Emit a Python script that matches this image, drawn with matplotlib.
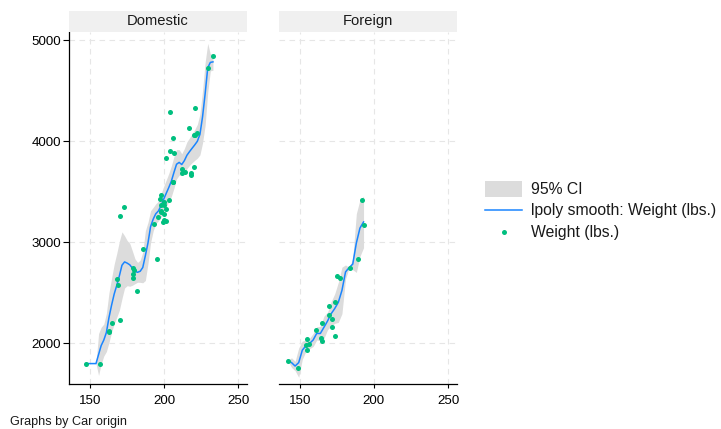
import numpy as np
import matplotlib
matplotlib.use("Agg")
import matplotlib.pyplot as plt
from matplotlib.patches import Rectangle
from matplotlib.lines import Line2D

plt.rcParams['font.family'] = ['Liberation Sans', 'DejaVu Sans']

# auto data: length (in.) and weight (lbs.) by car origin
dom_length = [186, 173, 168, 196, 222, 218, 170, 200, 207, 200, 221, 204, 204, 163,
              212, 193, 200, 179, 197, 163, 206, 206, 220, 147, 179, 233, 230, 201,
              169, 221, 212, 198, 217, 195, 220, 198, 198, 218, 200, 180, 206, 170,
              157, 165, 182, 201, 214, 198, 201, 199, 203, 179]
dom_weight = [2930, 3350, 2640, 3250, 4080, 3670, 2230, 3280, 3880, 3400, 4330, 3900,
              4290, 2110, 3690, 3180, 3220, 2750, 3430, 2120, 3600, 3600, 3740, 1800,
              2650, 4840, 4720, 3830, 2580, 4060, 3720, 3370, 4130, 2830, 4060, 3310,
              3300, 3690, 3370, 2730, 4030, 3260, 1800, 2200, 2520, 3330, 3700, 3470,
              3210, 3200, 3420, 2690]
for_length = [189, 174, 177, 170, 165, 170, 184, 161, 172, 149, 154, 192, 142, 164,
              174, 165, 175, 172, 155, 155, 156, 193]
for_weight = [2830, 2070, 2650, 2370, 2020, 2280, 2750, 2130, 2240, 1760, 1980, 3420,
              1830, 2050, 2410, 2200, 2670, 2160, 2040, 1930, 1990, 3170]

panels = ["Domestic", "Foreign"]
bandwidths = [3.6, 2.5]     # kernel half-width = sqrt(5)*bw (Stata epanechnikov)
n_grid = [50, 22]

C_PT = "#00bf7f"
C_LN = "#1a85ff"
C_CI = "#dcdcdc"
C_GRID = "#e6e6e6"


def kern(u):
    k = 0.75 * (1 - u**2 / 5) / np.sqrt(5)
    return np.where(np.abs(u) < np.sqrt(5), k, 0.0)


def lpolyci(x, y, h, n):
    x = np.asarray(x, float); y = np.asarray(y, float)
    g = np.linspace(x.min(), x.max(), n)
    w = kern((x[None, :] - g[:, None]) / h)
    sw = w.sum(1)
    m = (w * y[None, :]).sum(1) / sw
    # local weighted variance around the fit
    s2 = (w * (y[None, :] - m[:, None]) ** 2).sum(1) / sw
    se = np.sqrt(s2 * (w**2).sum(1) / sw**2)
    return g, m, m - 1.96 * se, m + 1.96 * se


W, H = 721, 429
fig = plt.figure(figsize=(W / 100, H / 100), dpi=100)
axes = [fig.add_axes([69.3 / W, 1 - 384 / H, 177.4 / W, 352 / H]),
        fig.add_axes([279 / W, 1 - 384 / H, 177.7 / W, 352 / H])]

data = [(dom_length, dom_weight), (for_length, for_weight)]
for i, ax in enumerate(axes):
    x, y = data[i]
    g, m, lo, hi = lpolyci(x, y, bandwidths[i], n_grid[i])
    ax.fill_between(g, lo, hi, color=C_CI, lw=0, zorder=2)
    ax.plot(g, m, color=C_LN, lw=1.1, zorder=3)
    ax.scatter(x, y, s=13, color=C_PT, lw=0, zorder=4)
    ax.set_xlim(136, 255.8)
    ax.set_ylim(1598, 5080)
    ax.set_xticks([150, 200, 250])
    ax.set_yticks([2000, 3000, 4000, 5000])
    ax.grid(True, color=C_GRID, lw=0.8, ls=(0, (5, 4)), zorder=0)
    ax.set_axisbelow(True)
    for s in ["top", "right"]:
        ax.spines[s].set_visible(False)
    ax.spines["bottom"].set_linewidth(0.9)
    ax.spines["left"].set_linewidth(0.9)
    ax.tick_params(axis="x", length=3, width=0.8, labelsize=9.6, pad=5)
    ax.tick_params(axis="y", length=4, width=0.8, labelsize=9.6, pad=2)
    if i == 1:
        ax.spines["left"].set_visible(False)
        ax.tick_params(axis="y", left=False, labelleft=False)
    # panel header
    b = ax.get_position()
    fig.add_artist(Rectangle((b.x0, 1 - 31.7 / H), b.width, 20.7 / H,
                             transform=fig.transFigure, color="#f0f0f0", lw=0))
    fig.text(b.x0 + b.width / 2, 1 - 21.3 / H, panels[i], ha="center", va="center",
             fontsize=10.6, color="#1a1a1a")

# legend
fig.add_artist(Rectangle((485 / W, 1 - 197 / H), 37 / W, 16 / H,
                         transform=fig.transFigure, color=C_CI, lw=0))
fig.add_artist(Line2D([485 / W, 522 / W], [1 - 210 / H] * 2,
                      transform=fig.transFigure, color=C_LN, lw=1.1))
fig.add_artist(Line2D([503.5 / W], [1 - 232 / H], transform=fig.transFigure,
                      marker="o", ms=3.6, color=C_PT, mec="none"))
labels = ["95% CI", "lpoly smooth: Weight (lbs.)", "Weight (lbs.)"]
for lab, yy in zip(labels, [189, 210, 232]):
    fig.text(531 / W, 1 - yy / H, lab, ha="left", va="center", fontsize=11.3,
             color="#1a1a1a")

fig.text(10 / W, 1 - 421.5 / H, "Graphs by Car origin", ha="left", va="center",
         fontsize=9.1, color="#1a1a1a")

fig.savefig("out.png", dpi=100, facecolor="white")
